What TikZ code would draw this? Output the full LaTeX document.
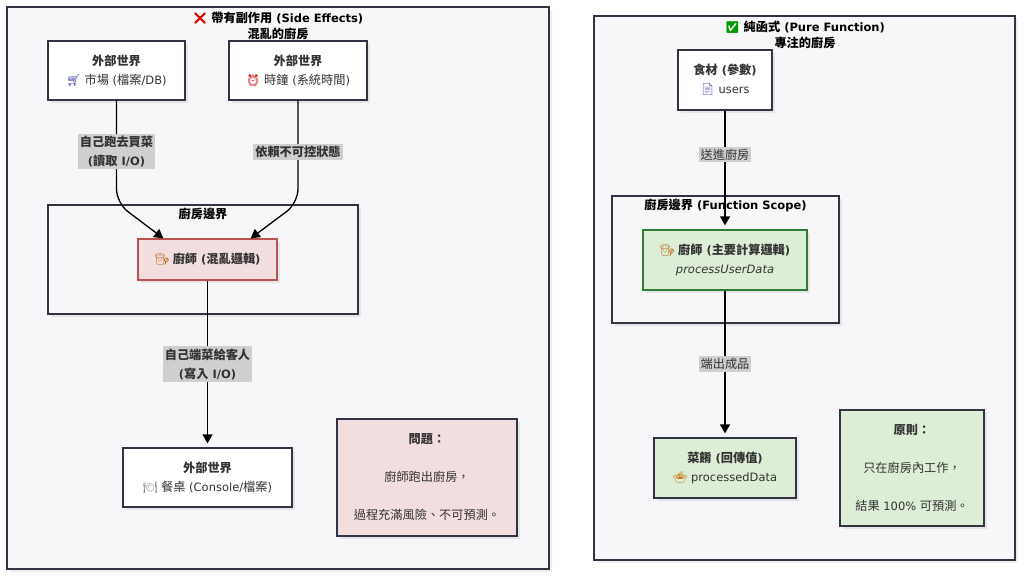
\documentclass[tikz,border=0pt]{standalone}
\usepackage{fontspec}
\setmainfont{DejaVu Sans}
\newfontfamily\zhfont[Scale=1.06]{Noto Sans CJK TC}
\newcommand\Z[1]{{\zhfont #1}}
\newfontfamily\emoji{Noto Emoji}
\usetikzlibrary{arrows.meta,shadows}
\definecolor{bgc}{HTML}{F7F7F9}
\definecolor{bdr}{HTML}{333344}
\definecolor{txt}{HTML}{333333}
\definecolor{pinkf}{HTML}{F3DEDF}
\definecolor{pinkb}{HTML}{B85450}
\definecolor{greenf}{HTML}{DDEED6}
\definecolor{greenb}{HTML}{2E7D32}
\definecolor{lblbg}{HTML}{CFCFCF}
\tikzset{
  shd/.style={drop shadow={shadow xshift=3pt,shadow yshift=-3pt,fill=black,opacity=0.07}},
  container/.style={draw=bdr,line width=1.3pt,fill=bgc,shd,inner sep=0pt},
  boxnode/.style={draw=bdr,line width=1.3pt,fill=white,shd,align=center,text=txt,inner sep=0pt,
    font=\fontsize{11.5}{19}\selectfont},
  lbl/.style={sharp corners,fill=lblbg,text=txt,align=center,inner sep=2pt,font=\fontsize{11.5}{19}\selectfont},
  blbl/.style={lbl,font=\bfseries\fontsize{11.5}{19}\selectfont},
  ttl/.style={text=black,align=center,font=\bfseries\fontsize{11.5}{18}\selectfont},
  arr/.style={line width=1.3pt,-{Triangle[length=9pt,width=10pt]}},
}
\begin{document}
\begin{tikzpicture}[x=1pt,y=-1pt]
\useasboundingbox (0,0) rectangle (1024,578);
\fill[white] (0,0) rectangle (1024,578);

% containers
\node[container,minimum width=542pt,minimum height=562pt] (outerL) at (278,288) {};
\node[container,minimum width=421pt,minimum height=544pt] (outerR) at (804.5,288) {};
\node[ttl] (titleL) at (278,26) {{\color{red!85!black}\emoji ❌} \Z{帶有副作用} (Side Effects)\\[-2pt]\Z{混亂的廚房}};
\node[ttl] (titleR) at (805,35) {{\color{green!60!black}\emoji ✅} \Z{純函式} (Pure Function)\\[-2pt]\Z{專注的廚房}};

\node[container,minimum width=310pt,minimum height=109pt] (kitchenL) at (203,259.5) {};
\node[ttl,anchor=north] (kitchenLt) at (kitchenL.north) {\Z{廚房邊界}};
\node[container,minimum width=227pt,minimum height=127pt] (scopeR) at (725.5,259.5) {};
\node[ttl,anchor=north] (scopeRt) at (scopeR.north) {\Z{廚房邊界} (Function Scope)};

% left nodes
\node[boxnode,minimum width=137pt,minimum height=59pt] (mkt) at (116.5,70.5)
  {\textbf{\Z{外部世界}}\\{\color{blue!40!gray}\emoji 🛒} \Z{市場} (\Z{檔案}/DB)};
\node[boxnode,minimum width=138pt,minimum height=59pt] (clk) at (298,70.5)
  {\textbf{\Z{外部世界}}\\{\color{red!80!black}\emoji ⏰} \Z{時鐘} (\Z{系統時間})};
\node[boxnode,fill=pinkf,draw=pinkb,minimum width=139pt,minimum height=41pt] (chefL) at (207.5,259.5)
  {{\color{orange!70!black}\emoji 🧑‍🍳} \textbf{\Z{廚師} (\Z{混亂邏輯})}};
\node[boxnode,minimum width=169pt,minimum height=59pt] (table) at (207.5,477.5)
  {\textbf{\Z{外部世界}}\\{\color{gray}\emoji 🍽️} \Z{餐桌} (Console/\Z{檔案})};
\node[boxnode,fill=pinkf,minimum width=180pt,minimum height=117pt] (problem) at (427,477.5)
  {\textbf{\Z{問題：}}\\[19pt]\Z{廚師跑出廚房，}\\[19pt]\Z{過程充滿風險、不可預測。}};

% right nodes
\node[boxnode,minimum width=94pt,minimum height=60pt] (ingr) at (725,80)
  {\textbf{\Z{食材} (\Z{參數})}\\{\color{blue!40!gray}\emoji 📄} users};
\node[boxnode,fill=greenf,draw=greenb,minimum width=164pt,minimum height=60pt] (chefR) at (725,260)
  {{\color{orange!70!black}\emoji 🧑‍🍳} \textbf{\Z{廚師} (\Z{主要計算邏輯})}\\{\itshape processUserData}};
\node[boxnode,fill=greenf,minimum width=142pt,minimum height=60pt] (dish) at (725,468)
  {\textbf{\Z{菜餚} (\Z{回傳值})}\\{\color{orange!80!black}\emoji 🍲} processedData};
\node[boxnode,fill=greenf,minimum width=144pt,minimum height=116pt] (principle) at (912,468)
  {\textbf{\Z{原則：}}\\[19pt]\Z{只在廚房內工作，}\\[19pt]\Z{結果} 100\% \Z{可預測。}};

% connectors left
\coordinate (bendA) at (116.5,203);
\coordinate (bendB) at (298,203);
\draw[arr,rounded corners=14pt] (mkt.south) -- node[blbl]{\Z{自己跑去買菜}\\(\Z{讀取} I/O)} (bendA) -- ([xshift=26pt]chefL.north west);
\draw[arr,rounded corners=14pt] (clk.south) -- node[blbl]{\Z{依賴不可控狀態}} (bendB) -- ([xshift=-27pt]chefL.north east);
\draw[arr,shorten >=4pt] (chefL.south) -- node[blbl]{\Z{自己端菜給客人}\\(\Z{寫入} I/O)} (table.north);

% connectors right
\draw[arr,shorten >=4pt] (ingr.south) -- node[lbl,pos=0.37]{\Z{送進廚房}} (chefR.north);
\draw[arr,shorten >=4pt] (chefR.south) -- node[lbl]{\Z{端出成品}} (dish.north);
\end{tikzpicture}
\end{document}
